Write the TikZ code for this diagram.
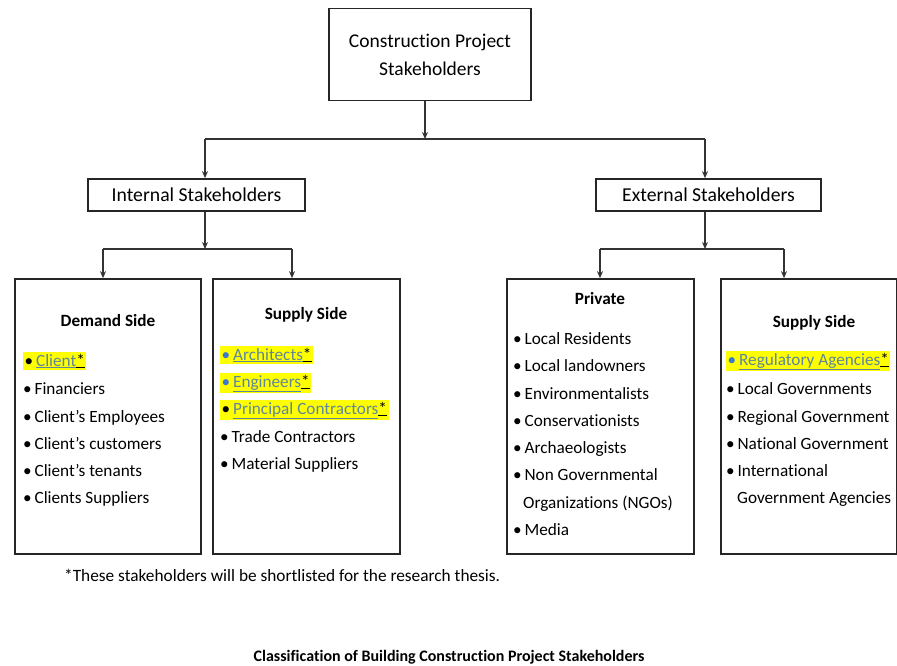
\documentclass[tikz,border=0pt]{standalone}
\usepackage{fontspec}
\setmainfont{Carlito}[Ligatures=NoCommon]
\usetikzlibrary{arrows.meta}
\definecolor{hl}{RGB}{255,255,0}
\definecolor{linkc}{RGB}{95,135,155}
\definecolor{bulblue}{RGB}{60,120,210}
\tikzset{
  box/.style={draw=black!85, line width=1.7pt, rectangle, inner sep=0pt},
  conn/.style={draw=black!80, line width=1.2pt},
  arr/.style={conn, -{Stealth[length=7pt,width=6pt]}},
  item/.style={anchor=base west, inner sep=0pt, font=\fontsize{17.2}{20}\selectfont},
  hitem/.style={anchor=base west, inner sep=1.5pt, fill=hl, font=\fontsize{17.2}{20}\selectfont},
  head/.style={anchor=base, inner sep=0pt, font=\fontsize{17.2}{20}\selectfont\bfseries},
}
\newcommand{\bl}{\textbullet\,}
\newcommand{\hlink}[2]{\textcolor{#1}{\textbullet}\,\textcolor{linkc}{\underline{#2}}\underline{*}}
\begin{document}
\begin{tikzpicture}[x=1pt,y=-1pt]
\useasboundingbox (0,0) rectangle (897,666);
% top
\node[box, minimum width=202pt, minimum height=92pt, align=center, font=\fontsize{19.5}{28}\selectfont] (top) at (430,54.5) {Construction Project\\Stakeholders};
\node[box, minimum width=217pt, minimum height=32pt, font=\fontsize{19.7}{22}\selectfont] (int) at (196.5,195) {Internal Stakeholders};
\node[box, minimum width=225pt, minimum height=32pt, font=\fontsize{19.7}{22}\selectfont] (ext) at (708.5,195) {External Stakeholders};
% list boxes
\node[box, minimum width=186pt, minimum height=275pt] (dem) at (108,416.5) {};
\node[box, minimum width=187pt, minimum height=275pt] (sup) at (306.5,416.5) {};
\node[box, minimum width=187pt, minimum height=275pt] (pri) at (600.5,416.5) {};
\node[box, minimum width=176pt, minimum height=275pt] (reg) at (809,416.5) {};
% connectors
\coordinate (j0) at (425,139);
\coordinate (jl) at (205,139);
\coordinate (jr) at (705,139);
\draw[arr] (top.south -| j0) -- (j0);
\draw[conn] (jl) -- (jr);
\draw[arr] (jl) -- (jl |- int.north);
\draw[arr] (jr) -- (jr |- ext.north);
\coordinate (i0) at (205,249);
\coordinate (il) at (103,249);
\coordinate (ir) at (292,249);
\draw[arr] (int.south -| i0) -- (i0);
\draw[conn] (il) -- (ir);
\draw[arr] (il) -- (il |- dem.north);
\draw[arr] (ir) -- (ir |- sup.north);
\coordinate (e0) at (705,249);
\coordinate (el) at (600,249);
\coordinate (er) at (784,249);
\draw[arr] (ext.south -| e0) -- (e0);
\draw[conn] (el) -- (er);
\draw[arr] (el) -- (el |- pri.north);
\draw[arr] (er) -- (er |- reg.north);
% demand side
\node[head] (dh) at (108,326) {Demand Side};
\node[hitem] (d1) at (23,366) {\hlink{black}{Client}};
\node[item] (d2) at (23,394) {\bl Financiers};
\node[item] (d3) at (23,422) {\bl Client’s Employees};
\node[item] (d4) at (23,449) {\bl Client’s customers};
\node[item] (d5) at (23,476) {\bl Client’s tenants};
\node[item] (d6) at (23,503) {\bl Clients Suppliers};
% supply side
\node[head] (sh) at (306,319) {Supply Side};
\node[hitem] (s1) at (220,360) {\hlink{bulblue}{Architects}};
\node[hitem] (s2) at (220,387) {\hlink{bulblue}{Engineers}};
\node[hitem] (s3) at (220,414) {\hlink{black}{Principal Contractors}};
\node[item] (s4) at (220,442) {\bl Trade Contractors};
\node[item] (s5) at (220,469) {\bl Material Suppliers};
% private
\node[head] (ph) at (600,304) {Private};
\node[item] (p1) at (513,344) {\bl Local Residents};
\node[item] (p2) at (513,371) {\bl Local landowners};
\node[item] (p3) at (513,399) {\bl Environmentalists};
\node[item] (p4) at (513,426) {\bl Conservationists};
\node[item] (p5) at (513,453) {\bl Archaeologists};
\node[item] (p6) at (513,480) {\bl Non Governmental};
\node[item] (p7) at (523,508) {Organizations (NGOs)};
\node[item] (p8) at (513,535) {\bl Media};
% external supply
\node[head] (rh) at (814,327) {Supply Side};
\node[hitem] (r1) at (726,365) {\hlink{bulblue}{Regulatory Agencies}};
\node[item] (r2) at (726,394) {\bl Local Governments};
\node[item] (r3) at (726,422) {\bl Regional Government};
\node[item] (r4) at (726,449) {\bl National Government};
\node[item] (r5) at (726,476) {\bl International};
\node[item] (r6) at (737,503) {Government Agencies};
% notes
\node[anchor=base west, inner sep=0pt, font=\fontsize{17.3}{20}\selectfont] (note) at (64,581) {*These stakeholders will be shortlisted for the research thesis.};
\node[anchor=base, inner sep=0pt, font=\fontsize{16}{19}\selectfont\bfseries] (cap) at (449,661) {Classification of Building Construction Project Stakeholders};
\end{tikzpicture}
\end{document}
